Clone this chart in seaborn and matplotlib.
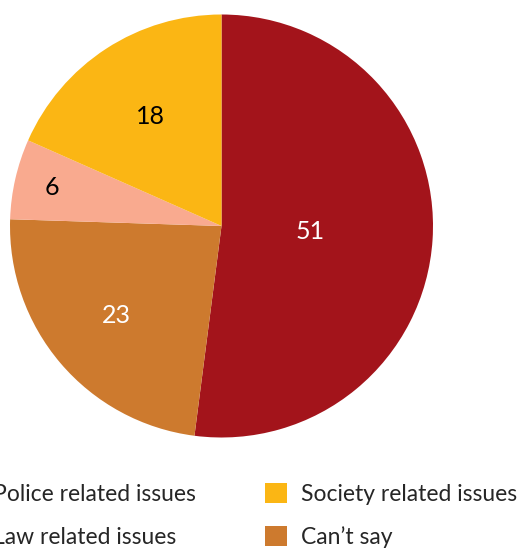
import numpy as np
import matplotlib.pyplot as plt
import seaborn as sns
from matplotlib.patches import Patch

# data (clockwise from 12 o'clock)
categories = ["Police related issues", "Can\u2019t say", "Law related issues", "Society related issues"]
values = [51, 23, 6, 18]
colors = ["#a3141b", "#cd7a2e", "#f9aa8f", "#fbb614"]
label_colors = ["white", "white", "black", "black"]
label_radius = [0.42, 0.65, 0.82, 0.62]

# legend entries, column by column (matplotlib fills columns first)
legend_order = ["Police related issues", "Law related issues",
                "Society related issues", "Can\u2019t say"]

sns.set_style("white")
plt.rcParams["font.family"] = ["Lato", "DejaVu Sans"]

fig = plt.figure(figsize=(5.19, 5.52), dpi=100)
ax = fig.add_axes([10 / 519, 114.5 / 552, 423 / 519, 423 / 552])

wedges, _ = ax.pie(values, colors=colors, startangle=90, counterclock=False,
                   radius=1, wedgeprops=dict(linewidth=0))
ax.set_xlim(-1, 1)
ax.set_ylim(-1, 1)
ax.set_aspect("equal")
ax.axis("off")

# value labels inside wedges
for w, v, c, r in zip(wedges, values, label_colors, label_radius):
    ang = np.deg2rad((w.theta1 + w.theta2) / 2)
    ax.text(r * np.cos(ang), r * np.sin(ang), str(v), ha="center", va="center",
            fontsize=18, color=c)

# legend: left column runs off the left edge like the source image
color_map = dict(zip(categories, colors))
handles = [Patch(facecolor=color_map[n], edgecolor="none") for n in legend_order]
fig.legend(handles, legend_order, ncol=2, loc="upper left",
           bbox_to_anchor=(-44 / 519, 1 - 483 / 552), frameon=False,
           fontsize=16.5, handlelength=0.96, handleheight=0.96,
           handletextpad=0.65, columnspacing=3.0, labelspacing=0.91,
           borderaxespad=0, borderpad=0)

fig.savefig("out.png", dpi=100)
